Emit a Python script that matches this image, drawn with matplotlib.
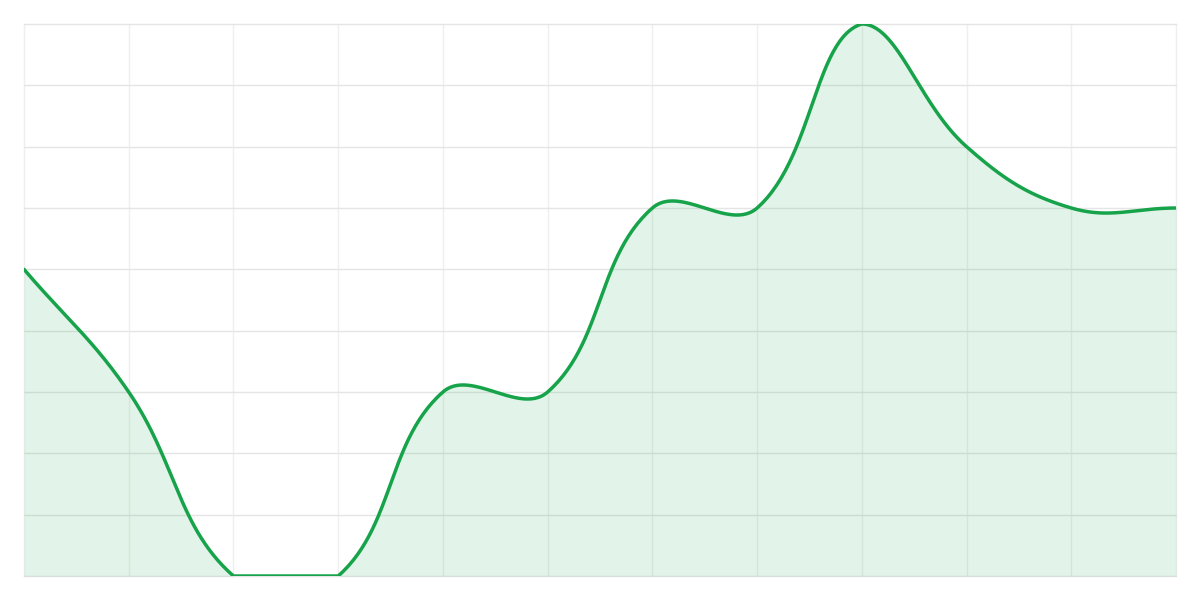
import numpy as np
import matplotlib
matplotlib.use("Agg")
import matplotlib.pyplot as plt

# data (12 points, y range 0..9)
labels = list(range(12))
values = [5, 3, 0, 0, 3, 3, 6, 6, 9, 7, 6, 6]
y_min, y_max = 0, 9

line_color = "#16a34a"

fig = plt.figure(figsize=(12, 6), dpi=100)
ax = fig.add_axes([0.02, 0.04, 0.96, 0.92])

W, H = 1152.0, 552.0  # plot area in px
xs = np.array(labels, dtype=float)
ys = np.array(values, dtype=float)
sx = W / (len(xs) - 1)
sy = H / (y_max - y_min)
px = xs * sx
py = ys * sy


def spline_controls(px, py, t=0.4):
    # cardinal spline control points like chart.js, in pixel space
    n = len(px)
    cp_prev = np.zeros((n, 2))
    cp_next = np.zeros((n, 2))
    for i in range(n):
        p0 = (px[max(i - 1, 0)], py[max(i - 1, 0)])
        p1 = (px[i], py[i])
        p2 = (px[min(i + 1, n - 1)], py[min(i + 1, n - 1)])
        d01 = np.hypot(p1[0] - p0[0], p1[1] - p0[1])
        d12 = np.hypot(p2[0] - p1[0], p2[1] - p1[1])
        s01 = d01 / (d01 + d12) if d01 + d12 else 0
        s12 = d12 / (d01 + d12) if d01 + d12 else 0
        fa = t * s01
        fb = t * s12
        cp_prev[i] = (p1[0] - fa * (p2[0] - p0[0]), p1[1] - fa * (p2[1] - p0[1]))
        cp_next[i] = (p1[0] + fb * (p2[0] - p0[0]), p1[1] + fb * (p2[1] - p0[1]))
    cp_prev[:, 1] = np.clip(cp_prev[:, 1], 0, H)
    cp_next[:, 1] = np.clip(cp_next[:, 1], 0, H)
    return cp_prev, cp_next


cp_prev, cp_next = spline_controls(px, py)
tt = np.linspace(0, 1, 60)[:, None]
curve = []
for i in range(len(px) - 1):
    P0 = np.array([px[i], py[i]])
    P1 = cp_next[i]
    P2 = cp_prev[i + 1]
    P3 = np.array([px[i + 1], py[i + 1]])
    seg = (1 - tt) ** 3 * P0 + 3 * (1 - tt) ** 2 * tt * P1 + 3 * (1 - tt) * tt ** 2 * P2 + tt ** 3 * P3
    curve.append(seg if i == 0 else seg[1:])
curve = np.vstack(curve)
cx = curve[:, 0] / sx
cy = curve[:, 1] / sy + y_min

ax.fill_between(cx, y_min, cy, color=line_color, alpha=0.12, lw=0, zorder=2)
ax.plot(cx, cy, color=line_color, lw=2.5, zorder=3, solid_capstyle="round")

ax.set_xlim(xs[0], xs[-1])
ax.set_ylim(y_min, y_max)
ax.set_xticks(xs)
ax.set_yticks(np.arange(y_min, y_max + 1))
ax.grid(True, axis="y", color="#e5e5e5", lw=1, zorder=1)
ax.grid(True, axis="x", color="#efefef", lw=1, zorder=1)
for gl in ax.get_xgridlines() + ax.get_ygridlines():
    gl.set_clip_on(False)
ax.set_axisbelow(True)
ax.tick_params(length=0, labelbottom=False, labelleft=False)
for s in ax.spines.values():
    s.set_visible(False)

fig.savefig("out.png", dpi=100, facecolor="white")
